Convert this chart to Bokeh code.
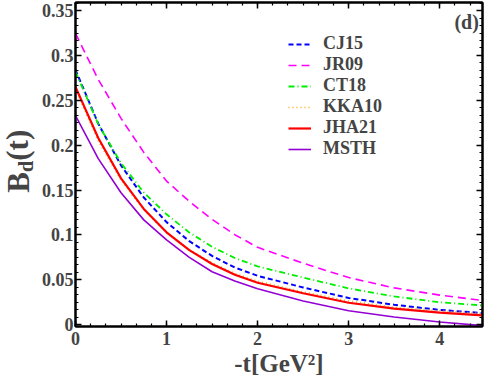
import math
from bokeh.plotting import figure
from bokeh.layouts import row
from bokeh.models import (Range1d, LinearAxis, SingleIntervalTicker, CustomJSTickFormatter,
                          Legend, LegendItem, Label, CustomLabelingPolicy)
from bokeh.embed import file_html
from bokeh.resources import INLINE

# ---- data ----
t_vals = [0, 0.25, 0.5, 0.75, 1.0, 1.25, 1.5, 1.75, 2.0, 2.5, 3.0, 3.5, 4.0, 4.47]
cj15 = [0.284, 0.224, 0.1775, 0.1417, 0.1143, 0.0931, 0.0766, 0.0637, 0.0545, 0.0415, 0.0298, 0.0222, 0.0165, 0.0130]
jr09 = [0.3245, 0.2732, 0.2299, 0.1920, 0.1600, 0.1374, 0.1173, 0.1003, 0.0862, 0.0685, 0.0525, 0.0410, 0.0330, 0.0270]
ct18 = [0.282, 0.2234, 0.1800, 0.1473, 0.1230, 0.1028, 0.0867, 0.0743, 0.0650, 0.0525, 0.0405, 0.0315, 0.0250, 0.0215]
kka10 = [0.2625, 0.2050, 0.1610, 0.1280, 0.1025, 0.0835, 0.0690, 0.0570, 0.0485, 0.0365, 0.0265, 0.0195, 0.0155, 0.0125]
jha21 = [0.265, 0.208, 0.163, 0.129, 0.103, 0.0831, 0.0677, 0.0557, 0.0468, 0.0350, 0.0245, 0.0180, 0.0135, 0.0105]
msth = [0.233, 0.185, 0.147, 0.1168, 0.0945, 0.0750, 0.0590, 0.0488, 0.0400, 0.0265, 0.0155, 0.0085, 0.0030, -0.0010]

series_names = ["CJ15", "JR09", "CT18", "KKA10", "JHA21", "MSTH"]
series_vals = [cj15, jr09, ct18, kka10, jha21, msth]
series_colors = ["#0000ff", "#ff00ff", "#00ee00", "#ffa500", "#ff0000", "#9400d3"]
series_dash = ["5 3", "8 5", "6 3 1 3", "1 3", "solid", "solid"]
series_width = [2, 1.6, 1.8, 1.6, 2.2, 1.6]

x_label = "-t[GeV²]"
y_label_parts = ["B", "d", "(t)"]
panel_tag = "(d)"

FONT = "Liberation Serif"
H = 382
LAB_W = 38
FRAME_TOP = 2
FRAME_BOTTOM = 325.5

p = figure(width=486 - LAB_W, height=H, x_range=Range1d(0, 4.47), y_range=Range1d(-0.002, 0.359),
           output_backend="svg", toolbar_location=None,
           min_border_left=34, min_border_right=4, min_border_top=2, min_border_bottom=56)
p.grid.visible = False
p.outline_line_color = "black"
p.outline_line_width = 2

fmt = CustomJSTickFormatter(code="return Number(tick.toFixed(2)).toString();")
hide_all = CustomLabelingPolicy(code="for (const i of indices) { if (i < 0) yield i }")

def style_axis(ax, show_labels):
    ax.axis_line_width = 2
    ax.major_tick_in = 6
    ax.major_tick_out = 0
    ax.minor_tick_in = 3
    ax.minor_tick_out = 0
    ax.major_tick_line_width = 1.5
    ax.minor_tick_line_width = 1.2
    ax.formatter = fmt
    if show_labels:
        ax.major_label_text_font = FONT
        ax.major_label_text_font_style = "bold"
        ax.major_label_text_font_size = "18px"
        ax.major_label_standoff = 2
    else:
        ax.major_label_text_font_size = "0px"
        ax.major_label_standoff = 0
        ax.major_label_policy = hide_all

xb = p.xaxis[0]
xb.ticker = SingleIntervalTicker(interval=1, num_minor_ticks=6)
style_axis(xb, True)
xb.major_label_standoff = 5
xb.axis_label = x_label
xb.axis_label_text_font = FONT
xb.axis_label_text_font_style = "bold"
xb.axis_label_text_font_size = "25px"
xb.axis_label_standoff = 2

yl = p.yaxis[0]
yl.ticker = SingleIntervalTicker(interval=0.05, num_minor_ticks=6)
style_axis(yl, True)

xt = LinearAxis(ticker=SingleIntervalTicker(interval=1, num_minor_ticks=6))
style_axis(xt, False)
p.add_layout(xt, "above")
yr = LinearAxis(ticker=SingleIntervalTicker(interval=0.05, num_minor_ticks=6))
style_axis(yr, False)
p.add_layout(yr, "right")

items = []
for name, vals, col, dash, w in zip(series_names, series_vals, series_colors, series_dash, series_width):
    r = p.line(t_vals, vals, line_color=col, line_dash=dash, line_width=w)
    items.append(LegendItem(label=name, renderers=[r]))

legend = Legend(items=items, location=(213, 167), border_line_color=None,
                background_fill_alpha=0, glyph_width=23, glyph_height=20, label_height=20,
                spacing=0, label_standoff=12, padding=0, margin=0,
                label_text_font=FONT, label_text_font_style="bold", label_text_font_size="18px")
p.add_layout(legend, "center")

p.add_layout(Label(x=4.43, y=0.350, text=panel_tag, text_align="right", text_baseline="top",
                   text_font=FONT, text_font_style="bold", text_font_size="20px"))

# narrow side figure carrying the rotated y-axis title B_d(t).
# Its frame is aligned with the main frame, so y is given as minus the pixel row.
pl = figure(width=LAB_W, height=H, x_range=Range1d(0, LAB_W),
            y_range=Range1d(-FRAME_BOTTOM, -FRAME_TOP),
            output_backend="svg", toolbar_location=None,
            x_axis_location=None, y_axis_location=None,
            min_border_left=0, min_border_right=0, min_border_top=0, min_border_bottom=0)
pl.grid.visible = False
pl.outline_line_color = None
ang = math.pi / 2
label_specs = [(y_label_parts[0], 17.5, 181.7, "31px"),
               (y_label_parts[1], 25.5, 165.6, "20px"),
               (y_label_parts[2], 17.0, 144.5, "31px")]
for txt, sx, sy, fs in label_specs:
    pl.add_layout(Label(x=sx, y=-sy, text=txt, angle=ang, text_align="center",
                        text_baseline="middle", text_font=FONT, text_font_style="bold",
                        text_font_size=fs))

layout = row(pl, p, spacing=0)
open("out.html", "w").write(file_html(layout, INLINE))
